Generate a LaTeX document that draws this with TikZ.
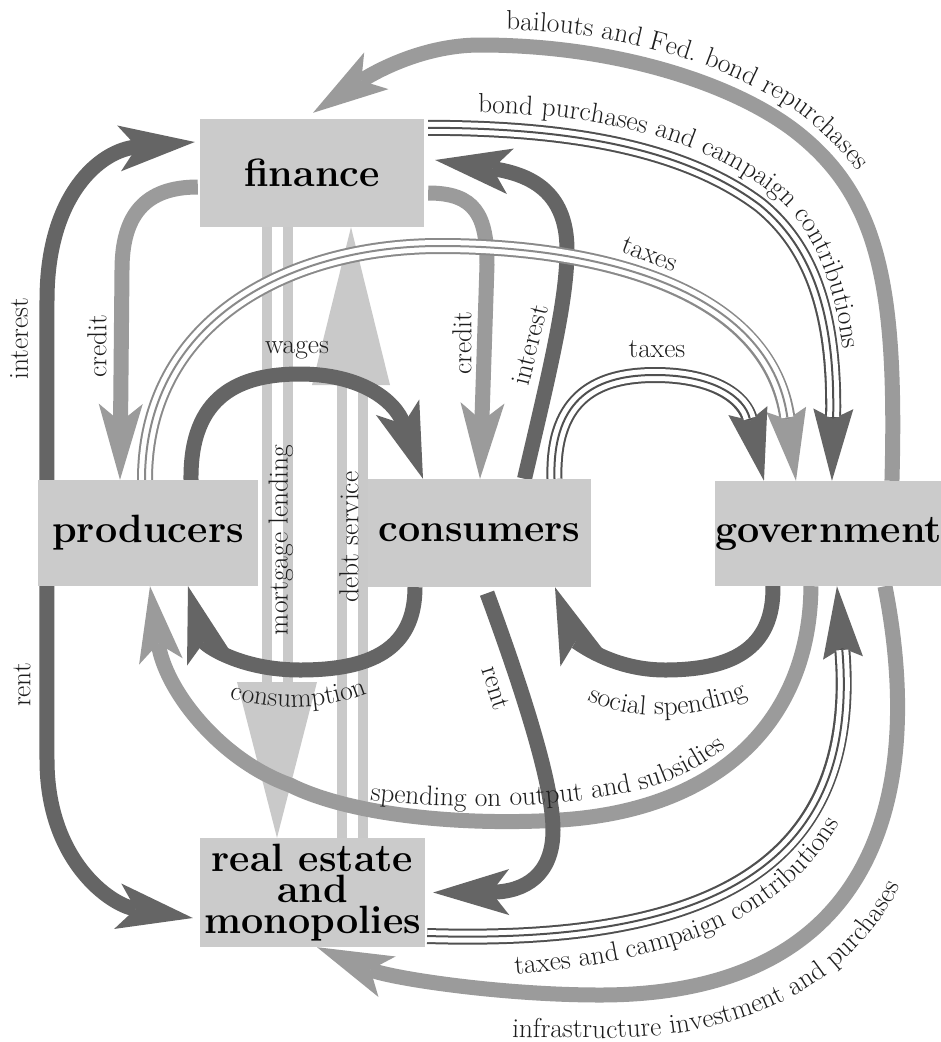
\documentclass[tikz,border=0pt]{standalone}
\usetikzlibrary{arrows.meta,decorations.text}

\definecolor{sectorfill}{HTML}{CBCBCB}
\definecolor{darkflow}{HTML}{656565}
\definecolor{midflow}{HTML}{9B9B9B}
\definecolor{lightflow}{HTML}{C9C9C9}
\definecolor{wireink}{HTML}{505050}
\definecolor{wiremid}{HTML}{8A8A8A}
\definecolor{labelink}{HTML}{1E1E1E}

\newcommand\sectorfont{\fontsize{39.5}{31}\selectfont\bfseries}
\newcommand\flowfont{\fontsize{27.5}{30}\selectfont}

\pgfdeclarelayer{flows}
\pgfsetlayers{flows,main}

\tikzset{
  sector/.style={fill=sectorfill, inner sep=0pt, font=\sectorfont, align=center, text=black},
  band/.style={line width=15pt, draw=#1},
  darkband/.style={band=darkflow, -{Stealth[length=76pt,width=46pt,inset=18pt,line width=0pt]}},
  midband/.style={band=midflow, -{Stealth[length=76pt,width=44pt,inset=18pt,line width=0pt]}},
  wire/.style n args={2}{line width=16pt, draw=#1,
     -{Stealth[length=72pt,width=40pt,inset=10pt,line width=0pt,color=#2]},
     postaction={draw=white, line width=12pt, -, shorten >=64pt},
     postaction={draw=#1, line width=2pt, -, shorten >=64pt}},
  rail/.style={line width=10pt, draw=lightflow},
  flowlabel/.style={font=\flowfont, text=labelink, inner sep=0pt},
  curvelabel/.style={decorate, decoration={text along path, text align=left, text={|\flowfont\color{labelink}|#1}}},
}

\begin{document}
\begin{tikzpicture}[x=1pt,y=-1pt]
\useasboundingbox (0,0) rectangle (941,1042);

% the five sectors
\node[sector, minimum width=224pt, minimum height=108pt] (finance)    at (312,173)     {finance};
\node[sector, minimum width=220pt, minimum height=106pt] (producers)  at (148,533)     {producers};
\node[sector, minimum width=223pt, minimum height=108pt] (consumers)  at (479.5,533)   {consumers};
\node[sector, minimum width=225pt, minimum height=105pt] (government) at (828.5,533.5) {government};
\node[sector, minimum width=225pt, minimum height=109pt] (realestate) at (312.5,892.5) {real estate\\and\\monopolies};

\begin{pgfonlayer}{flows}
\fill[white] (0,0) rectangle (941,1042);

% mortgage lending: finance -> real estate
\draw[rail] ([xshift=-45pt]finance.south) -- (267,684);
\draw[rail] ([xshift=-24pt]finance.south) -- (288,684);
\fill[lightflow] (237,682) -- (317,682) -- ([xshift=-35.5pt]realestate.north) -- cycle;

% debt service: real estate -> finance
\draw[rail] ([xshift=29.5pt]realestate.north) -- (342,383);
\draw[rail] ([xshift=50.5pt]realestate.north) -- (363,383);
\fill[lightflow] (312,385) -- (390,385) -- ([xshift=39pt]finance.south) -- cycle;

% thick money flows
\draw[darkband] ([xshift=9pt]producers.north west) -- (47,300)
   .. controls (47,195) and (100,150) .. ([xshift=-5pt,yshift=31pt]finance.west);
\draw[midband] ([xshift=-2pt,yshift=-14pt]finance.west)
   .. controls (145,187) and (122,215) .. (122,270) -- ([xshift=-28pt]producers.north);
\draw[darkband] ([xshift=9pt]producers.south west) -- (47,760)
   .. controls (47,860) and (110,905) .. ([xshift=-7pt,yshift=-25.5pt]realestate.west);
\draw[darkband] ([xshift=43pt]producers.north)
   .. controls (190,395) and (240,374) .. (300,374)
   .. controls (360,374) and (395,400) .. ([xshift=-56.5pt]consumers.north);
\draw[darkband] ([xshift=-64.5pt]consumers.south)
   .. controls (415,650) and (370,670) .. (300,670)
   .. controls (240,670) and (205,645) .. ([xshift=40pt]producers.south);
\draw[midband] ([xshift=4pt,yshift=-20pt]finance.east)
   .. controls (475,193) and (487,215) .. (487,265) -- ([xshift=0.5pt]consumers.north);
\draw[darkband] ([xshift=45pt]consumers.north)
   .. controls (550,370) and (567,300) .. (567,250)
   .. controls (567,195) and (535,175) .. ([xshift=11pt,yshift=13pt]finance.east);
\draw[darkband] ([xshift=58pt]government.south west)
   .. controls (774,650) and (730,670) .. (665,670)
   .. controls (610,670) and (575,640) .. ([xshift=75.5pt]consumers.south);
\draw[midband] ([xshift=177pt]government.north west)
   .. controls (897,290) and (880,200) .. (800,135)
   .. controls (740,86) and (620,45) .. (480,45)
   .. controls (420,45) and (370,75) .. ([xshift=1pt,yshift=6pt]finance.north);
\draw[midband] ([xshift=96pt]government.south west)
   .. controls (810,720) and (720,810) .. (560,820)
   .. controls (460,826) and (350,815) .. (290,785)
   .. controls (220,760) and (165,690) .. ([xshift=2pt]producers.south);
\draw[midband] ([xshift=170pt]government.south west)
   .. controls (925,790) and (880,995) .. (600,995)
   .. controls (500,995) and (390,978) .. ([xshift=4.5pt]realestate.south);
\draw[darkband] ([xshift=7.5pt,yshift=-6pt]consumers.south)
   .. controls (530,710) and (553,790) .. (553,830)
   .. controls (553,875) and (525,892) .. ([xshift=8pt]realestate.east);

% triple-line flows (taxes, purchases, contributions)
\draw[wire={wiremid}{midflow}] ([xshift=-3pt]producers.north)
   .. controls (145,320) and (290,246) .. (440,246)
   .. controls (600,246) and (770,290) .. ([xshift=81pt]government.north west);
\draw[wire={wireink}{darkflow}] ([xshift=75pt]consumers.north)
   .. controls (552,395) and (600,375) .. (655,375)
   .. controls (715,375) and (745,398) .. ([xshift=49pt]government.north west);
\draw[wire={wireink}{darkflow}] ([xshift=4pt,yshift=-9pt]finance.north east)
   .. controls (560,128) and (680,145) .. (760,205)
   .. controls (815,250) and (835,320) .. ([xshift=117pt]government.north west);
\draw[wire={wireink}{darkflow}] ([xshift=2pt,yshift=-43.5pt]realestate.east)
   .. controls (720,945) and (860,860) .. ([xshift=122pt]government.south west);

% straight labels
\node[flowlabel, rotate=90]  (tInterestP) at (19,339)  {interest};
\node[flowlabel, rotate=90]  (tCreditP)   at (97,346)  {credit};
\node[flowlabel, rotate=90]  (tRentP)     at (22,685)  {rent};
\node[flowlabel]             (tWages)     at (297,350) {wages};
\node[flowlabel, rotate=90]  (tMortgage)  at (281,540) {mortgage lending};
\node[flowlabel, rotate=90]  (tDebt)      at (349,537) {debt service};
\node[flowlabel, rotate=90]  (tCreditC)   at (462,343) {credit};
\node[flowlabel, rotate=76]  (tInterestC) at (530,345) {interest};
\node[flowlabel]             (tTaxesC)    at (657,349) {taxes};
\node[flowlabel, rotate=-21] (tTaxesP)    at (650,254) {taxes};
\node[flowlabel, rotate=-72] (tRentC)     at (496,688) {rent};

% labels that follow their flows
\path[curvelabel={bailouts and Fed. bond repurchases}]
   (506,30) .. controls (630,30) and (752,74) .. (810,122)
   .. controls (868,170) and (912,240) .. (912,330);
\path[curvelabel={bond purchases and campaign contributions}]
   (478,113) .. controls (570,113) and (690,130) .. (770,192)
   .. controls (828,238) and (850,320) .. (850,470);
\path[curvelabel={taxes and campaign contributions}]
   (515,974) .. controls (722,958) and (855,892) .. (878,700);
\path[curvelabel={infrastructure investment and purchases}]
   (512,1037) .. controls (560,1038) and (580,1038) .. (600,1038)
   .. controls (920,1040) and (968,790) .. (925,588);
\path[curvelabel={spending on output and subsidies}]
   (370,800) .. controls (460,811) and (560,808) .. (640,790)
   .. controls (690,778) and (730,750) .. (765,710);
\path[curvelabel={consumption}]
   (230,698) .. controls (275,712) and (335,712) .. (385,685);
\path[curvelabel={social spending}]
   (588,700) .. controls (630,722) and (710,722) .. (770,685);
\end{pgfonlayer}
\end{tikzpicture}
\end{document}
